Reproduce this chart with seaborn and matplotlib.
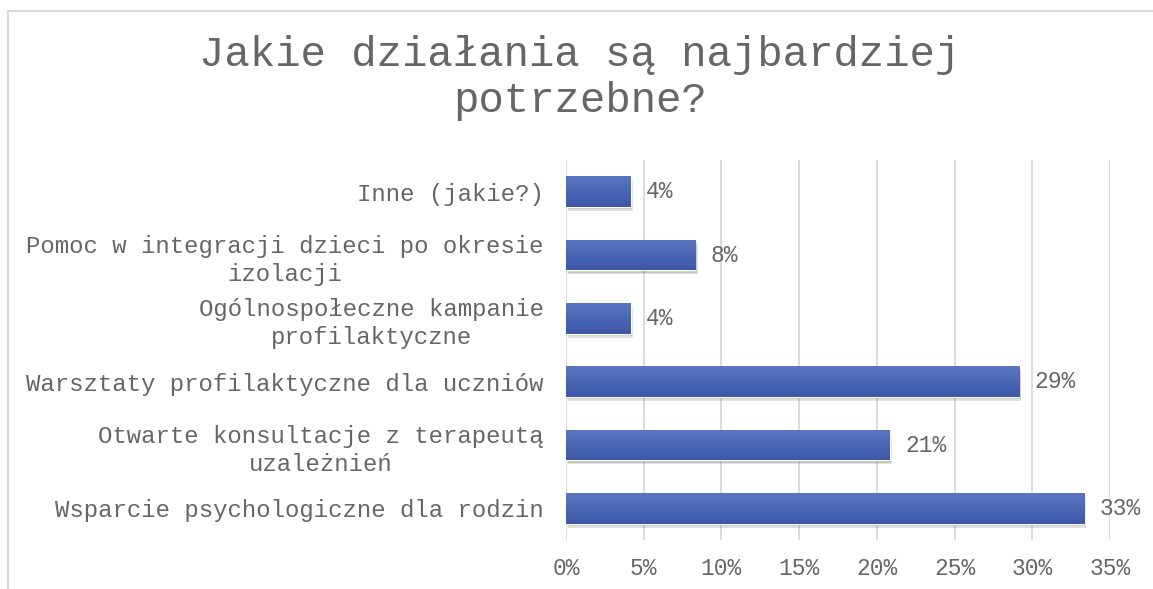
import numpy as np
import pandas as pd
import matplotlib
matplotlib.use("Agg")
import matplotlib.pyplot as plt
import matplotlib.patheffects as pe
from matplotlib.patches import Rectangle
from matplotlib.colors import LinearSegmentedColormap
import seaborn as sns

categories = [
    "Inne (jakie?)",
    "Pomoc w integracji dzieci po okresie\nizolacji",
    "Ogólnospołeczne kampanie\nprofilaktyczne",
    "Warsztaty profilaktyczne dla uczniów",
    "Otwarte konsultacje z terapeutą\nuzależnień",
    "Wsparcie psychologiczne dla rodzin",
]
values = [4.17, 8.33, 4.17, 29.17, 20.83, 33.33]
value_labels = ["4%", "8%", "4%", "29%", "21%", "33%"]
xticks = [0, 5, 10, 15, 20, 25, 30, 35]
xtick_labels = ["0%", "5%", "10%", "15%", "20%", "25%", "30%", "35%"]
title = "Jakie działania są najbardziej\npotrzebne?"

sns.set_theme(style="white")
plt.rcParams["font.family"] = ["Liberation Mono", "DejaVu Sans Mono", "DejaVu Sans"]

TXT = "#666666"
GRID = "#D9D9D9"

fig = plt.figure(figsize=(11.53, 5.89), dpi=100)
ax = fig.add_axes([566 / 1153, 1 - 540 / 589, (1110 - 566) / 1153, (540 - 160) / 589])

df = pd.DataFrame({"cat": categories, "val": values})
sns.barplot(data=df, x="val", y="cat", orient="h", color="#4A66B4", width=0.48,
            ax=ax, zorder=3, saturation=1)

ax.set_xlim(0, 35)
ax.set_ylim(5.5, -0.5)
ax.set_xticks(xticks)
ax.set_xticklabels(xtick_labels)
ax.set_xlabel("")
ax.set_ylabel("")
for s in ax.spines.values():
    s.set_visible(False)
ax.grid(axis="x", color=GRID, linewidth=1.3, zorder=0)
ax.grid(axis="y", visible=False)
ax.tick_params(axis="x", length=0, pad=12, labelsize=16.5, labelcolor=TXT)
ax.tick_params(axis="y", length=0, pad=16, labelsize=17.3, labelcolor=TXT)
for lbl in ax.get_yticklabels():
    lbl.set_multialignment("center")
    lbl.set_linespacing(1.3)

# gradient + soft shadow on bars
grad = np.linspace(0, 1, 100).reshape(-1, 1)
cmap = LinearSegmentedColormap.from_list("g", ["#5B76C1", "#3B57A6"])
for p in ax.patches:
    x0, y0 = p.get_x(), p.get_y()
    w, h = p.get_width(), p.get_height()
    p.set_path_effects([pe.SimplePatchShadow(offset=(1.5, -3), shadow_rgbFace="#000000", alpha=0.12),
                        pe.SimplePatchShadow(offset=(1.0, -1.8), shadow_rgbFace="#000000", alpha=0.12),
                        pe.Normal()])
    im = ax.imshow(grad, cmap=cmap, aspect="auto", extent=(x0, x0 + w, y0 + h, y0),
                   zorder=4, interpolation="bicubic")
    im.set_clip_path(p)

ax.set_xlim(0, 35)
ax.set_ylim(5.5, -0.5)

for i, (v, t) in enumerate(zip(values, value_labels)):
    ax.annotate(t, xy=(v, i), xytext=(11, 0), textcoords="offset points",
                ha="left", va="center", fontsize=16.5, color=TXT)

fig.text(0.503, 1 - 78 / 589, title, ha="center", va="center", fontsize=30.5,
         color=TXT, linespacing=1.17)

# chart border (partially visible)
fig.patches.append(Rectangle((7.5 / 1153, -0.1), 1.2, 1 - 10.5 / 589 + 0.1,
                             transform=fig.transFigure, fill=False,
                             edgecolor=GRID, linewidth=1.5))

fig.savefig("out.png", dpi=100, facecolor="white")
